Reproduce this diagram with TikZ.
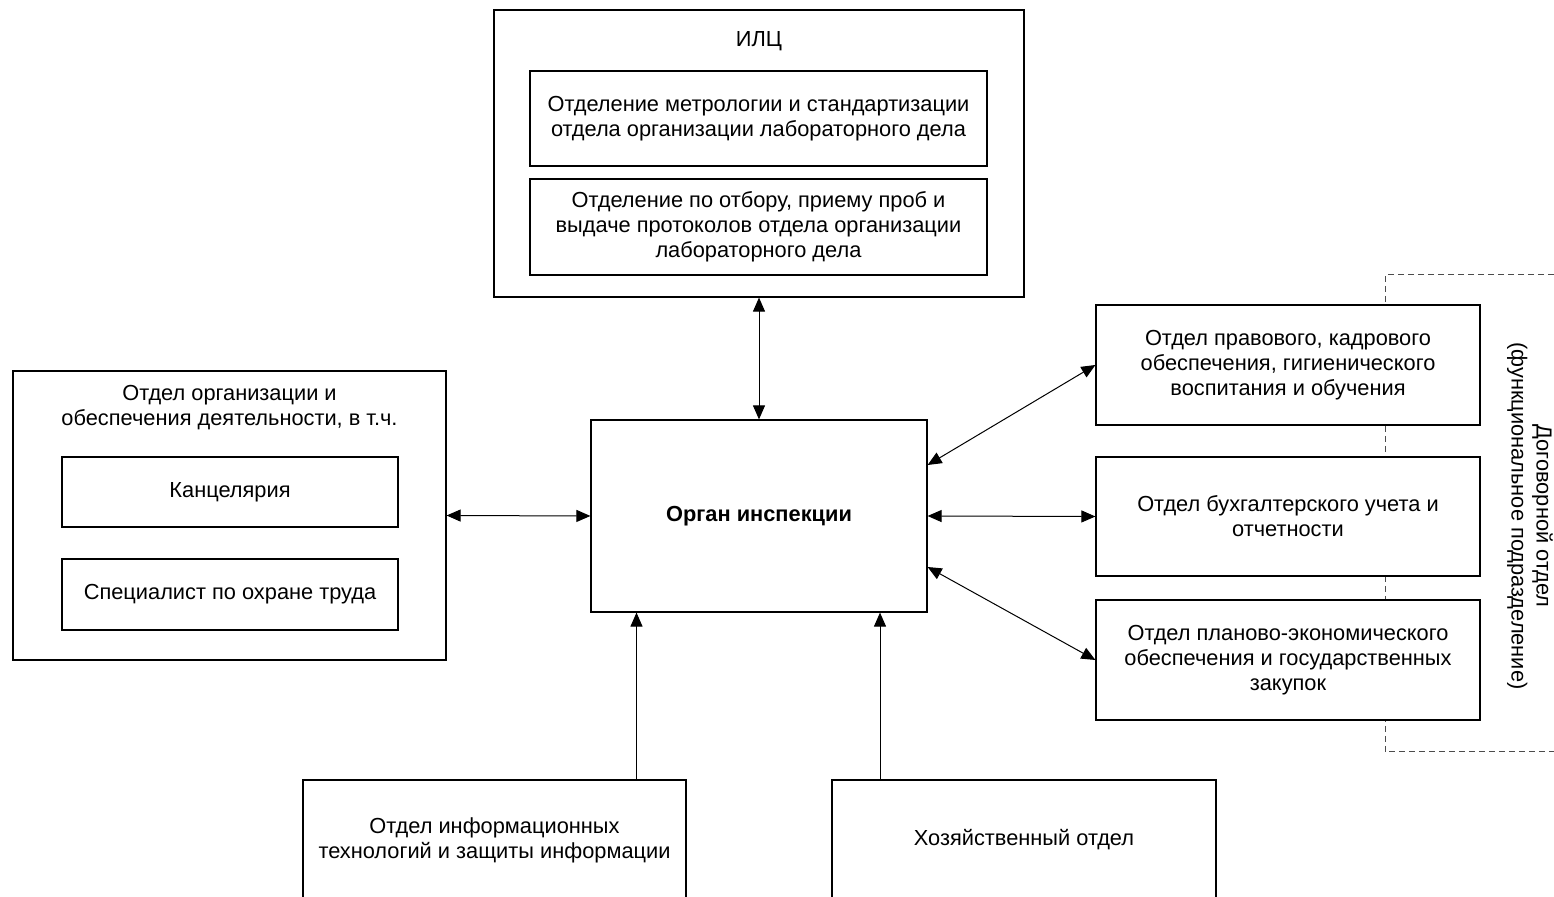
\documentclass[tikz,border=0pt]{standalone}
\usepackage{fontspec}
\setmainfont{Liberation Sans}
\usetikzlibrary{arrows.meta,positioning}

\begin{document}
\begin{tikzpicture}[x=0.5pt,y=-0.5pt]
    \tikzset{
        n/.style        =   { rectangle
                            , draw=black
                            , fill=white
                            , line width=0.6pt
                            , inner sep=0pt
                            , align=center
                            , text centered
                            }
        , t/.style      =   { align=center
                            , inner sep=0pt
                            }
        , arrow/.style  =   { line width=0.5pt
                            , {Triangle[length=7pt,width=6pt]}-{Triangle[length=7pt,width=6pt]}
                            }
        , uparrow/.style =  { line width=0.5pt
                            , -{Triangle[length=7pt,width=6pt]}
                            }
        , bracket/.style =  { draw=black!70
                            , line width=0.5pt
                            , dash pattern=on 3pt off 2pt
                            }
        , every node/.style = {font=\fontsize{10.9}{12.5}\selectfont}
    }
    \useasboundingbox (0,0) rectangle (1554,897);

    % dashed frame of the contract department
    \coordinate (d1) at (1554,275);
    \coordinate (d2) at (1385,275);
    \coordinate (d3) at (1385,752);
    \coordinate (d4) at (1554,752);
    \draw[bracket] (d1) -- (d2) -- (d3) -- (d4);

    \node(ilc)[n, minimum width=265pt, minimum height=143.5pt] at (759,153.5) {};
    \node(ilct)[t] at (759,41) {ИЛЦ};
    \node(metr)[n, minimum width=228.5pt, minimum height=47.5pt] at (758.5,118.5)
        {Отделение метрологии и стандартизации\\отдела организации лабораторного дела};
    \node(prob)[n, minimum width=228.5pt, minimum height=48pt] at (758.5,227)
        {Отделение по отбору, приему проб и\\выдаче протоколов отдела организации\\лабораторного дела};

    \node(organ)[n, minimum width=168pt, minimum height=96pt] at (759,516)
        {\bfseries Орган инспекции};

    \node(org)[n, minimum width=216.5pt, minimum height=144.5pt] at (229.5,515.5) {};
    \node(orgt)[t] at (229.5,408) {Отдел организации и\\обеспечения деятельности, в т.ч.};
    \node(kanc)[n, minimum width=168pt, minimum height=35pt] at (230,492) {Канцелярия};
    \node(spec)[n, minimum width=168pt, minimum height=35.5pt] at (230,594.5) {Специалист по охране труда};

    \node(prav)[n, minimum width=192pt, minimum height=60pt] at (1288,365)
        {Отдел правового, кадрового\\обеспечения, гигиенического\\воспитания и обучения};
    \node(buh)[n, minimum width=192pt, minimum height=59.5pt] at (1288,516.5)
        {Отдел бухгалтерского учета и\\отчетности};
    \node(plan)[n, minimum width=192pt, minimum height=60pt] at (1288,660)
        {Отдел планово-экономического\\обеспечения и государственных\\закупок};
    \node(dog)[t, rotate=-90] at (1530,516)
        {Договорной отдел\\(функциональное подразделение)};

    \node(it)[n, minimum width=191.5pt, minimum height=60pt] at (494.5,840)
        {Отдел информационных\\технологий и защиты информации};
    \node(hoz)[n, minimum width=192pt, minimum height=60pt] at (1024,840)
        {Хозяйственный отдел};

    \draw[arrow] (ilc.south) -- (organ.north);
    \draw[arrow] (org.east) -- (organ.west);
    \draw[arrow] ([yshift=25.5pt]organ.east) -- (prav.west);
    \draw[arrow] (organ.east) -- (buh.west);
    \draw[arrow] ([yshift=-25.5pt]organ.east) -- (plan.west);
    \draw[uparrow] ([xshift=71pt]it.north) -- ([xshift=71pt]it.north |- organ.south);
    \draw[uparrow] ([xshift=-72pt]hoz.north) -- ([xshift=-72pt]hoz.north |- organ.south);
\end{tikzpicture}
\end{document}
